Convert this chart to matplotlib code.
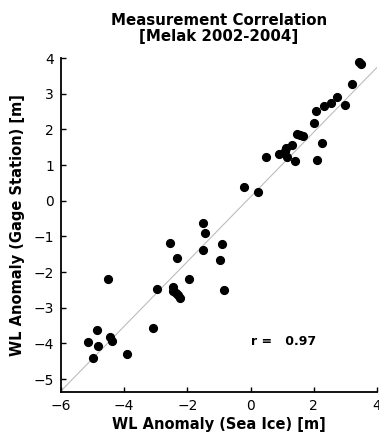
import matplotlib
matplotlib.use("Agg")
from matplotlib import pyplot as plt

# WL anomalies
sea_ice = [3.44, 3.49, 3.20, 2.74, 2.56, 2.32, 2.07, 3.00, 2.02, 2.27,
           2.11, 1.46, 1.56, 1.66, 1.30, 1.12, 1.09, 0.90, 1.16, 1.40,
           0.48, -0.20, 0.24, -1.50, -1.44, -0.92, -1.50, -0.97, -0.84, -2.55,
           -2.34, -4.51, -1.94, -2.97, -2.47, -2.45, -2.36, -2.31, -2.22, -3.10,
           -4.85, -4.45, -4.40, -5.14, -4.82, -3.92, -4.98]
gage = [3.89, 3.84, 3.28, 2.91, 2.74, 2.65, 2.52, 2.69, 2.18, 1.62,
        1.15, 1.88, 1.85, 1.82, 1.57, 1.49, 1.40, 1.31, 1.23, 1.11,
        1.23, 0.38, 0.24, -0.61, -0.90, -1.20, -1.39, -1.65, -2.51, -1.18,
        -1.60, -2.20, -2.20, -2.46, -2.41, -2.54, -2.58, -2.63, -2.72, -3.58,
        -3.61, -3.81, -3.93, -3.95, -4.08, -4.30, -4.42]

# fitted line
fit_slope = 0.907
fit_icpt = 0.11
r_value = 0.97

xticks = [-6, -4, -2, 0, 2, 4]
yticks = [-5, -4, -3, -2, -1, 0, 1, 2, 3, 4]

fig = plt.figure(figsize=(3.79, 4.40), dpi=100)
ax = fig.add_axes([61 / 379, 0.1084, 316 / 379, 0.868 - 0.1084])

xl = [-6, 4.2]
ax.plot(xl, [fit_slope * v + fit_icpt for v in xl], color="#bdbdbd", lw=0.8, zorder=1)
ax.plot(sea_ice, gage, "o", color="black", markersize=5.6, zorder=2)

ax.set_xlim(-6, 4)
ax.set_ylim(-5.37, 4)
ax.set_xticks(xticks)
ax.set_yticks(yticks)
ax.tick_params(direction="in", length=3.5, width=1, labelsize=10, pad=5)

for s in ["top", "right"]:
    ax.spines[s].set_visible(False)
for s in ["left", "bottom"]:
    ax.spines[s].set_linewidth(1.3)

ax.text(0, -3.95, "r =   %.2f" % r_value, ha="left", va="center",
        fontsize=9, fontweight="bold")

ax.set_title("Measurement Correlation\n[Melak 2002-2004]", fontsize=10.8,
             fontweight="bold", pad=12, linespacing=1.1)
ax.set_xlabel("WL Anomaly (Sea Ice) [m]", fontsize=10.5, fontweight="bold", labelpad=3)
ax.set_ylabel("WL Anomaly (Gage Station) [m]", fontsize=10.5, fontweight="bold", labelpad=6)

fig.savefig("out.png", dpi=100)
